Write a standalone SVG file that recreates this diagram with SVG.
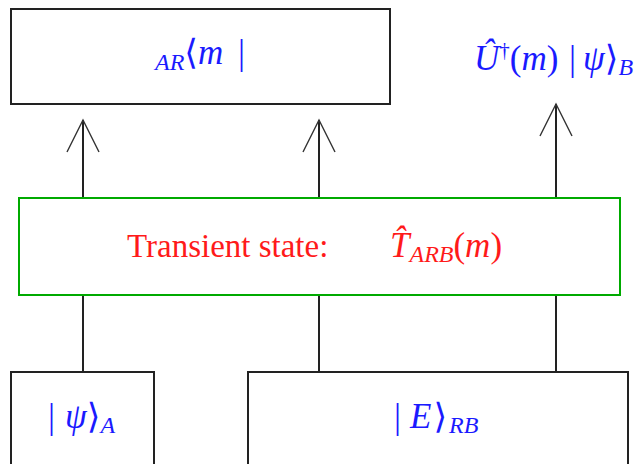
<svg xmlns="http://www.w3.org/2000/svg" width="642" height="464" viewBox="0 0 642 464">
<defs>
<style>
.box{fill:none;stroke:#222;stroke-width:2}
.gbox{fill:none;stroke:#00aa00;stroke-width:2}
.conn{fill:none;stroke:#222;stroke-width:2}
.math{font-family:"Liberation Serif","DejaVu Serif",serif;font-size:35px;fill:#1a1aff}
.it{font-style:italic}
.sub{font-size:24px;font-style:italic}
.red{fill:#ff1a1a}
</style>
<marker id="vhead" markerUnits="userSpaceOnUse" markerWidth="40" markerHeight="40" refX="0" refY="0" orient="auto" overflow="visible">
<path d="M-32,-16 L0,0 L-32,16" fill="none" stroke="#333" stroke-width="1.4"/>
</marker>
</defs>
<rect width="642" height="464" fill="#fff"/>

<g id="connectors">
<line class="conn" x1="83" y1="198" x2="83" y2="120" marker-end="url(#vhead)"/>
<line class="conn" x1="319" y1="198" x2="319" y2="120" marker-end="url(#vhead)"/>
<line class="conn" x1="556" y1="198" x2="556" y2="104" marker-end="url(#vhead)"/>
<line class="conn" x1="83" y1="295" x2="83" y2="373"/>
<line class="conn" x1="319" y1="295" x2="319" y2="373"/>
<line class="conn" x1="556" y1="295" x2="556" y2="373"/>
</g>

<g id="node-ar">
<rect class="box" x="11" y="9" width="379" height="95"/>
<text class="math" x="155" y="64"><tspan class="sub" dy="6">AR</tspan><tspan dy="-6">⟨</tspan><tspan class="it">m</tspan><tspan x="238">|</tspan></text>
</g>

<g id="node-ub">
<text class="math" x="474" y="70"><tspan class="it">Û</tspan><tspan font-size="21" dy="-13">†</tspan><tspan dy="13">(</tspan><tspan class="it">m</tspan><tspan>)</tspan><tspan x="569">|</tspan><tspan x="583" class="it">ψ</tspan><tspan>⟩</tspan><tspan class="sub" dy="5">B</tspan></text>
</g>

<g id="node-transient">
<rect class="gbox" x="19" y="198" width="601" height="97"/>
<text class="math red" x="127" y="257" style="font-size:33px">Transient state:</text>
<text class="math red" x="390" y="257"><tspan class="it">T&#x302;</tspan><tspan class="sub" dy="5">ARB</tspan><tspan dy="-5">(</tspan><tspan class="it">m</tspan><tspan>)</tspan></text>
</g>

<g id="node-psia">
<rect class="box" x="11" y="372" width="143" height="100"/>
<text class="math" x="48" y="428">|<tspan class="it" x="65">ψ</tspan>⟩<tspan class="sub" dy="5">A</tspan></text>
</g>

<g id="node-erb">
<rect class="box" x="248" y="372" width="380" height="100"/>
<text class="math" x="394" y="428">|<tspan class="it" x="410">E</tspan><tspan dx="2">⟩</tspan><tspan class="sub" dy="5" dx="2">RB</tspan></text>
</g>
</svg>
